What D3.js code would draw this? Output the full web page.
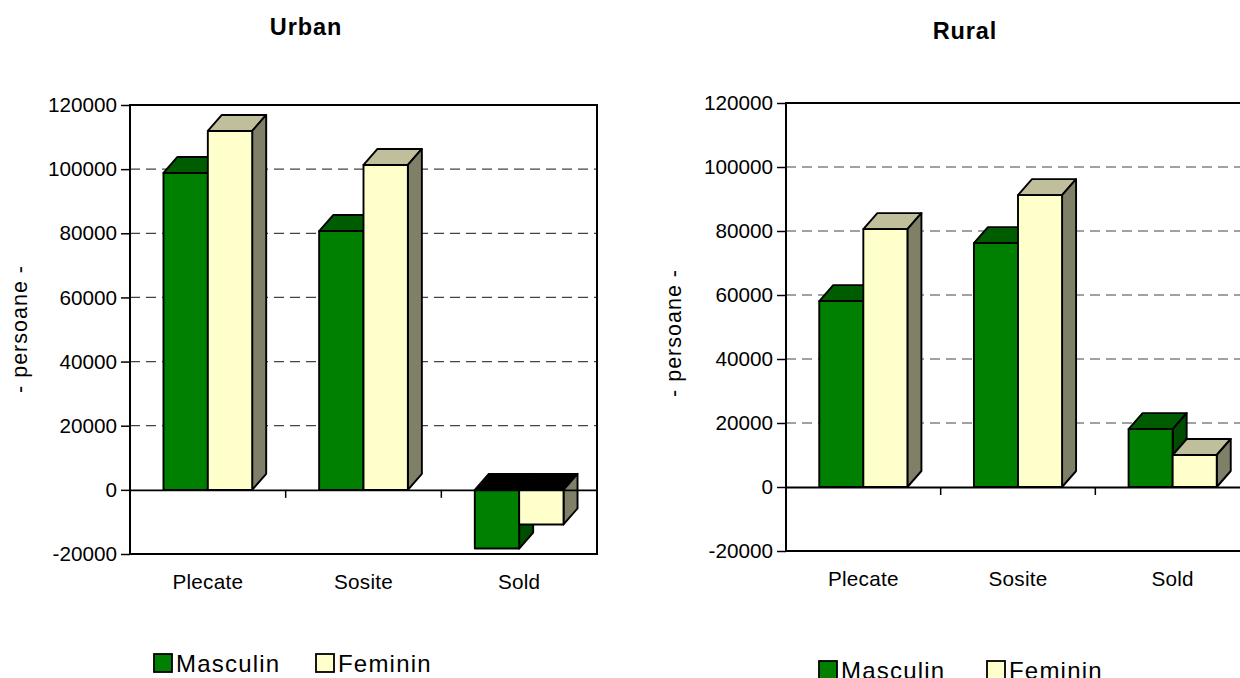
<!DOCTYPE html>
<html>
<head>
<meta charset="utf-8">
<script src="https://cdn.jsdelivr.net/npm/d3@7"></script>
<style>
  html, body { margin: 0; padding: 0; background: #fff; overflow: hidden; }
  svg { display: block; font-family: "Liberation Sans", Arial, sans-serif; }
</style>
</head>
<body>
<div id="chart"></div>
<script>
const categories = ["Plecate", "Sosite", "Sold"];
const seriesNames = ["Masculin", "Feminin"];
const yTicks = [-20000, 0, 20000, 40000, 60000, 80000, 100000, 120000];
const urbanMasculin = [98800, 80700, -18300];
const urbanFeminin = [111900, 101300, -10800];
const ruralMasculin = [58100, 76200, 18100];
const ruralFeminin = [80600, 91200, 10000];

const svg = d3.select("#chart").append("svg")
    .attr("width", 1240)
    .attr("height", 678);

// front, top and side colours of the bars
const faces = {
    Masculin: { front: "#008000", top: "#005c00", side: "#004c00" },
    Feminin: { front: "#ffffcc", top: "#bfbf9c", side: "#808068" }
};
const depthX = 14;
const depthY = 16;

function drawPanel(p) {
    const g = svg.append("g");

    const x = d3.scaleBand().domain(categories).range([p.left, p.right]);
    const y = d3.scaleLinear().domain([-20000, 120000]).range([p.bottom, p.top]);

    // Dashed grid, behind the bars.
    g.append("g")
        .selectAll("line")
        .data(yTicks.filter(d => d > 0 && d < 120000))
        .join("line")
        .attr("x1", p.left)
        .attr("x2", p.right)
        .attr("y1", d => y(d))
        .attr("y2", d => y(d))
        .attr("stroke", "#444")
        .attr("stroke-width", 1.2)
        .attr("stroke-dasharray", "10 6");

    // Frame
    g.append("rect")
        .attr("x", p.left)
        .attr("y", p.top)
        .attr("width", p.right - p.left)
        .attr("height", p.bottom - p.top)
        .attr("fill", "none")
        .attr("stroke", "#000")
        .attr("stroke-width", 2);

    // Bars, one pair per category
    const groupWidth = x.bandwidth() * 0.57;
    const rows = [
        { name: seriesNames[0], values: p.masculin },
        { name: seriesNames[1], values: p.feminin }
    ];

    categories.forEach((cat, i) => {
        const center = x(cat) + x.bandwidth() / 2;
        const xs = d3.scaleBand().domain(seriesNames).range([center - groupWidth / 2, center + groupWidth / 2]);

        rows.forEach(row => {
            const v = row.values[i];
            const x0 = xs(row.name);
            const x1 = x0 + xs.bandwidth();
            const yTop = y(Math.max(v, 0));
            const yBot = y(Math.min(v, 0));
            const c = faces[row.name];
            const bar = g.append("g")
                .attr("stroke", "#000")
                .attr("stroke-width", 1.9)
                .attr("stroke-linejoin", "round");

            // top face, black when the bar hangs below zero
            bar.append("path")
                .attr("d", d3.line()([[x0, yTop], [x0 + depthX, yTop - depthY], [x1 + depthX, yTop - depthY], [x1, yTop]]) + "Z")
                .attr("fill", v < 0 ? "#000" : c.top);
            bar.append("path")
                .attr("d", d3.line()([[x1, yTop], [x1 + depthX, yTop - depthY], [x1 + depthX, yBot - depthY], [x1, yBot]]) + "Z")
                .attr("fill", c.side);
            bar.append("rect")
                .attr("x", x0)
                .attr("y", yTop)
                .attr("width", x1 - x0)
                .attr("height", yBot - yTop)
                .attr("fill", c.front);
        });
    });

    // Append the axes.
    g.append("g")
        .attr("transform", `translate(${p.left},0)`)
        .call(d3.axisLeft(y).tickValues(yTicks).tickFormat(d => String(d)).tickSize(9).tickPadding(4))
        .call(a => a.select(".domain").remove())
        .call(a => a.selectAll(".tick line").attr("stroke", "#000").attr("stroke-width", 1.5))
        .call(a => a.selectAll("text").attr("font-size", 20.7).attr("fill", "#000"));

    g.append("g")
        .attr("transform", `translate(0,${y(0)})`)
        .call(d3.axisBottom(x).tickValues(categories).tickSize(0).tickFormat(d => d))
        .call(a => a.select(".domain").attr("stroke", "#000").attr("stroke-width", 1.8))
        .call(a => a.selectAll("text")
            .attr("y", p.bottom - y(0) + 35)
            .attr("dy", 0)
            .attr("font-size", 20.7)
            .attr("letter-spacing", 0.25)
            .attr("fill", "#000"));

    // tick marks sit between the categories
    g.append("g")
        .selectAll("line")
        .data(categories.slice(1))
        .join("line")
        .attr("x1", d => x(d))
        .attr("x2", d => x(d))
        .attr("y1", y(0))
        .attr("y2", y(0) + 8)
        .attr("stroke", "#000")
        .attr("stroke-width", 1.5);

    // Title and y label
    g.append("text")
        .attr("x", p.titleX)
        .attr("y", p.titleY)
        .attr("text-anchor", "middle")
        .attr("font-size", 23.5)
        .attr("font-weight", "bold")
        .attr("letter-spacing", 0.9)
        .text(p.title);

    g.append("text")
        .attr("transform", `translate(${p.labelX},${p.labelY}) rotate(-90)`)
        .attr("text-anchor", "middle")
        .attr("font-size", 21.5)
        .attr("letter-spacing", 1)
        .text("- persoane -");

    // Legend
    const legend = g.append("g")
        .selectAll("g")
        .data(seriesNames)
        .join("g")
        .attr("transform", (d, i) => `translate(${p.legendX[i]},${p.legendY})`);

    legend.append("rect")
        .attr("x", 0)
        .attr("y", -17)
        .attr("width", 18)
        .attr("height", 18)
        .attr("fill", d => faces[d].front)
        .attr("stroke", "#000")
        .attr("stroke-width", 1.8);

    legend.append("text")
        .attr("x", 22)
        .attr("y", 1)
        .attr("font-size", 24)
        .attr("letter-spacing", 1.2)
        .text(d => d);
}

drawPanel({
    title: "Urban", titleX: 306, titleY: 35,
    left: 130, right: 597, top: 105, bottom: 554,
    labelX: 27, labelY: 329,
    legendX: [154, 316], legendY: 671,
    masculin: urbanMasculin, feminin: urbanFeminin
});

drawPanel({
    title: "Rural", titleX: 965, titleY: 39,
    left: 786, right: 1250, top: 103, bottom: 551,
    labelX: 681, labelY: 333,
    legendX: [819, 987], legendY: 678,
    masculin: ruralMasculin, feminin: ruralFeminin
});
</script>
</body>
</html>
